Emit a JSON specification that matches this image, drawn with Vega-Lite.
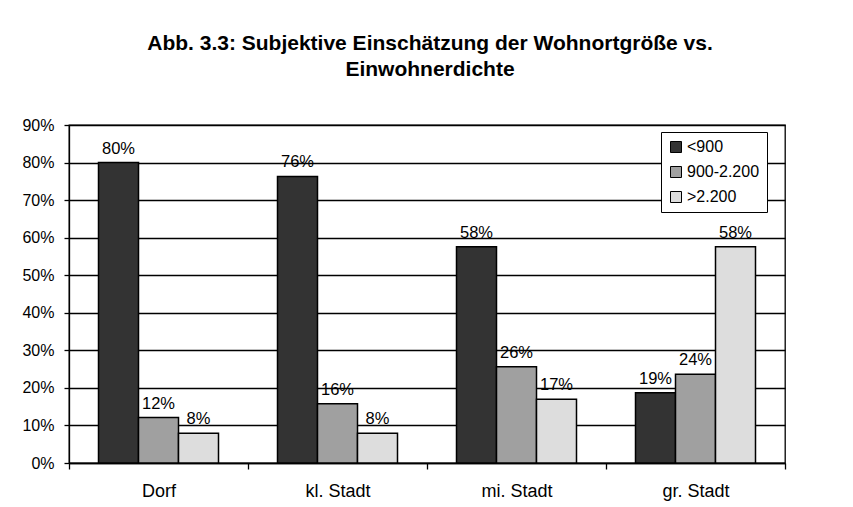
{
  "$schema": "https://vega.github.io/schema/vega-lite/v6.json",
  "width": 716,
  "height": 338,
  "autosize": "none",
  "padding": {"left": 69, "top": 125, "right": 68, "bottom": 44},
  "background": "white",
  "title": {
    "text": ["Abb. 3.3: Subjektive Einschätzung der Wohnortgröße vs.", "Einwohnerdichte"],
    "font": "Liberation Sans",
    "fontSize": 21,
    "fontWeight": "bold",
    "color": "black",
    "anchor": "middle",
    "lineHeight": 26,
    "offset": 37,
    "dx": 3
  },
  "data": {
    "values": [
      {"ort": "Dorf", "dichte": "<900", "anteil": 0.80},
      {"ort": "Dorf", "dichte": "900-2.200", "anteil": 0.121},
      {"ort": "Dorf", "dichte": ">2.200", "anteil": 0.079},
      {"ort": "kl. Stadt", "dichte": "<900", "anteil": 0.763},
      {"ort": "kl. Stadt", "dichte": "900-2.200", "anteil": 0.158},
      {"ort": "kl. Stadt", "dichte": ">2.200", "anteil": 0.079},
      {"ort": "mi. Stadt", "dichte": "<900", "anteil": 0.576},
      {"ort": "mi. Stadt", "dichte": "900-2.200", "anteil": 0.256},
      {"ort": "mi. Stadt", "dichte": ">2.200", "anteil": 0.17},
      {"ort": "gr. Stadt", "dichte": "<900", "anteil": 0.187},
      {"ort": "gr. Stadt", "dichte": "900-2.200", "anteil": 0.236},
      {"ort": "gr. Stadt", "dichte": ">2.200", "anteil": 0.576}
    ]
  },
  "encoding": {
    "x": {
      "field": "ort",
      "type": "nominal",
      "sort": ["Dorf", "kl. Stadt", "mi. Stadt", "gr. Stadt"],
      "scale": {"paddingInner": 0, "paddingOuter": 0},
      "axis": {
        "title": null,
        "labelAngle": 0,
        "tickBand": "extent",
        "grid": false,
        "tickSize": 6,
        "labelFontSize": 18,
        "labelPadding": 13
      }
    },
    "xOffset": {
      "field": "dichte",
      "type": "nominal",
      "sort": ["<900", "900-2.200", ">2.200"],
      "scale": {"paddingInner": 0, "paddingOuter": 0.7375}
    },
    "y": {
      "field": "anteil",
      "type": "quantitative",
      "scale": {"domain": [0, 0.9], "nice": false},
      "axis": {
        "title": null,
        "format": ".0%",
        "values": [0, 0.1, 0.2, 0.3, 0.4, 0.5, 0.6, 0.7, 0.8, 0.9],
        "tickSize": 5,
        "labelPadding": 10,
        "labelFontSize": 16,
        "grid": true
      }
    }
  },
  "layer": [
    {
      "mark": {"type": "bar", "stroke": "black", "strokeWidth": 1.5},
      "encoding": {
        "color": {
          "field": "dichte",
          "type": "nominal",
          "sort": ["<900", "900-2.200", ">2.200"],
          "scale": {
            "domain": ["<900", "900-2.200", ">2.200"],
            "range": ["#333333", "#A0A0A0", "#DDDDDD"]
          },
          "legend": {
            "title": null,
            "orient": "none",
            "legendX": 592,
            "legendY": 7,
            "strokeColor": "black",
            "fillColor": "white",
            "padding": 7,
            "symbolType": "square",
            "symbolSize": 121,
            "symbolStrokeColor": "black",
            "symbolStrokeWidth": 1,
            "symbolOpacity": 1,
            "labelFontSize": 16,
            "labelOffset": 3,
            "labelColor": "black",
            "rowPadding": 9
          }
        }
      }
    },
    {
      "mark": {"type": "text", "baseline": "alphabetic", "dy": -9, "fontSize": 16.5, "color": "black", "font": "Liberation Sans"},
      "encoding": {
        "text": {"field": "anteil", "type": "quantitative", "format": ".0%"}
      }
    }
  ],
  "config": {
    "font": "Liberation Sans",
    "view": {"stroke": "black", "strokeWidth": 1.3},
    "axis": {
      "domainColor": "black",
      "domainWidth": 1.3,
      "tickColor": "black",
      "tickWidth": 1.3,
      "gridColor": "black",
      "gridOpacity": 1,
      "gridWidth": 1.3,
      "labelColor": "black",
      "labelFont": "Liberation Sans"
    },
    "legend": {"labelFont": "Liberation Sans"}
  }
}
